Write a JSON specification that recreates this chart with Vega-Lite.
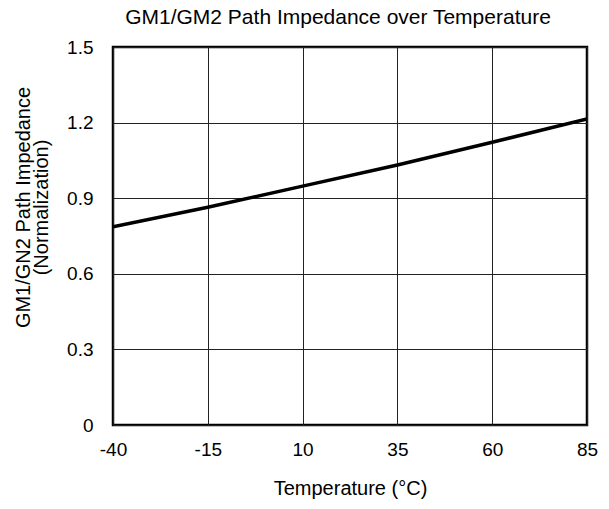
{
  "$schema": "https://vega.github.io/schema/vega-lite/v6.json",
  "width": 474,
  "height": 378,
  "autosize": {"type": "none"},
  "padding": {"left": 113, "top": 47, "right": 22, "bottom": 84},
  "background": "white",
  "title": {
    "text": "GM1/GM2 Path Impedance over Temperature",
    "font": "Liberation Sans",
    "fontSize": 21,
    "fontWeight": "normal",
    "color": "black",
    "anchor": "middle",
    "dx": -12,
    "offset": 10
  },
  "config": {
    "view": {"stroke": "black", "strokeWidth": 2.5},
    "axis": {
      "labelFont": "Liberation Sans",
      "titleFont": "Liberation Sans",
      "labelColor": "black",
      "titleColor": "black",
      "labelFontSize": 19,
      "titleFontSize": 20,
      "titleFontWeight": "normal",
      "domain": false,
      "ticks": false,
      "tickSize": 0,
      "gridColor": "#222",
      "gridWidth": 1,
      "gridOpacity": 1
    }
  },
  "data": {
    "values": [
      {"t": -40, "z": 0.787},
      {"t": -15, "z": 0.864},
      {"t": 10, "z": 0.948},
      {"t": 35, "z": 1.032},
      {"t": 60, "z": 1.122},
      {"t": 85, "z": 1.214}
    ]
  },
  "mark": {"type": "line", "color": "black", "strokeWidth": 3.5, "clip": true},
  "encoding": {
    "x": {
      "field": "t",
      "type": "quantitative",
      "scale": {"domain": [-40, 85], "nice": false, "zero": false},
      "axis": {
        "values": [-40, -15, 10, 35, 60, 85],
        "labelExpr": "toString(datum.value)",
        "labelPadding": 15,
        "labelFlush": false,
        "title": "Temperature (°C)",
        "titleBaseline": "middle",
        "titleY": 63
      }
    },
    "y": {
      "field": "z",
      "type": "quantitative",
      "scale": {"domain": [0, 1.5], "nice": false},
      "axis": {
        "values": [0, 0.3, 0.6, 0.9, 1.2, 1.5],
        "format": ".1~f",
        "labelPadding": 20,
        "labelFlush": false,
        "title": ["GM1/GN2 Path Impedance", "(Normalization)"],
        "titleAngle": -90,
        "titleBaseline": "alphabetic",
        "titleLineHeight": 18,
        "titleX": -84,
        "titleY": 160
      }
    }
  }
}
